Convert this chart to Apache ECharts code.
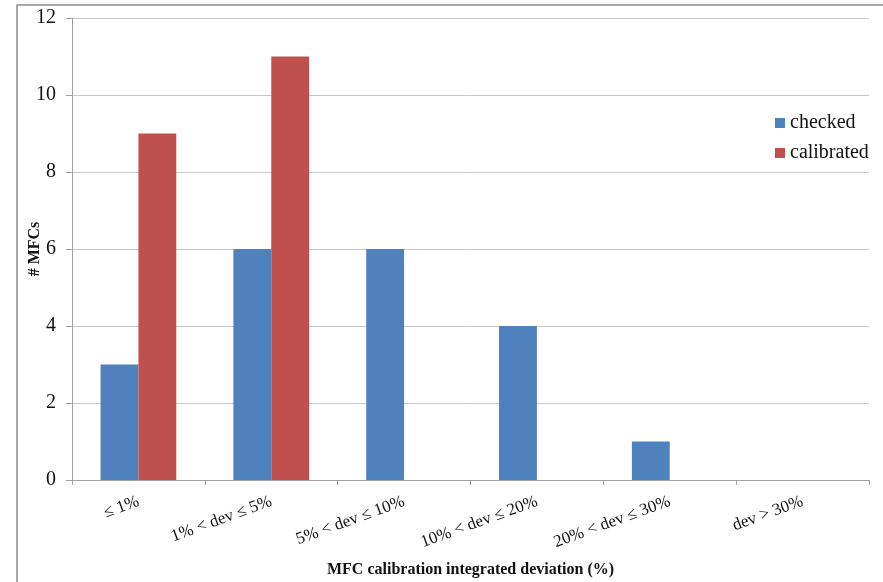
<!DOCTYPE html>
<html>
<head>
<meta charset="utf-8">
<script src="https://cdn.jsdelivr.net/npm/echarts@6/dist/echarts.min.js"></script>
<style>
  html, body { margin: 0; padding: 0; background: #fff; }
  #chart { width: 883px; height: 582px; }
</style>
</head>
<body>
<div id="chart"></div>
<script>
// Deviation bins
const categories = ['\u2264 1%', '1% < dev \u2264 5%', '5% < dev \u2264 10%', '10% < dev \u2264 20%', '20% < dev \u2264 30%', 'dev > 30%'];
// Number of MFCs per bin
const checked = [3, 6, 6, 4, 1, 0];
const calibrated = [9, 11, 0, 0, 0, 0];
const yTicks = [0, 2, 4, 6, 8, 10, 12];

const serif = '"Liberation Serif", "DejaVu Serif", serif';
const chart = echarts.init(document.getElementById('chart'), null, { renderer: 'canvas' });

chart.setOption({
  animation: false,
  backgroundColor: '#ffffff',
  textStyle: { fontFamily: serif },
  graphic: [{
    type: 'polyline',
    shape: { points: [[17, 600], [17, 5], [900, 5]] },
    style: { stroke: '#8c8c8c', lineWidth: 1.5, fill: null },
    silent: true
  }],
  grid: { left: 72, right: 14, top: 18, bottom: 102, containLabel: false, outerBoundsMode: 'none' },
  legend: {
    orient: 'vertical',
    left: 775,
    top: 113,
    padding: 0,
    itemWidth: 10,
    itemHeight: 10,
    itemGap: 10,
    icon: 'rect',
    textStyle: { fontFamily: serif, fontSize: 20, color: '#111' },
    data: ['checked', 'calibrated']
  },
  xAxis: {
    type: 'category',
    data: categories,
    name: 'MFC calibration integrated deviation (%)',
    nameLocation: 'middle',
    nameGap: 82,
    nameMoveOverlap: false,
    nameTextStyle: { fontFamily: serif, fontSize: 16, fontWeight: 'bold', color: '#111' },
    axisLine: { lineStyle: { color: '#a0a0a0', width: 1 } },
    axisTick: { show: true, alignWithLabel: false, length: 5, lineStyle: { color: '#a0a0a0' } },
    axisLabel: {
      interval: 0,
      rotate: 20,
      margin: 21,
      fontFamily: serif,
      fontSize: 17,
      color: '#111'
    }
  },
  yAxis: {
    type: 'value',
    min: yTicks[0],
    max: yTicks[yTicks.length - 1],
    interval: 2,
    name: '# MFCs',
    nameLocation: 'middle',
    nameGap: 29,
    nameMoveOverlap: false,
    nameRotate: 90,
    nameTextStyle: { fontFamily: serif, fontSize: 16, fontWeight: 'bold', color: '#111' },
    axisLine: { show: true, lineStyle: { color: '#a0a0a0', width: 1 } },
    axisTick: { show: true, length: 6, lineStyle: { color: '#a0a0a0' } },
    axisLabel: { margin: 16, fontFamily: serif, fontSize: 20, color: '#111' },
    splitLine: { lineStyle: { color: '#c8c8c8', width: 1 } }
  },
  series: [
    {
      name: 'checked',
      type: 'bar',
      data: checked,
      barGap: '0%',
      barCategoryGap: '43%',
      itemStyle: { color: '#4f81bd' }
    },
    {
      name: 'calibrated',
      type: 'bar',
      data: calibrated,
      itemStyle: { color: '#c0504d' }
    }
  ]
});
</script>
</body>
</html>
